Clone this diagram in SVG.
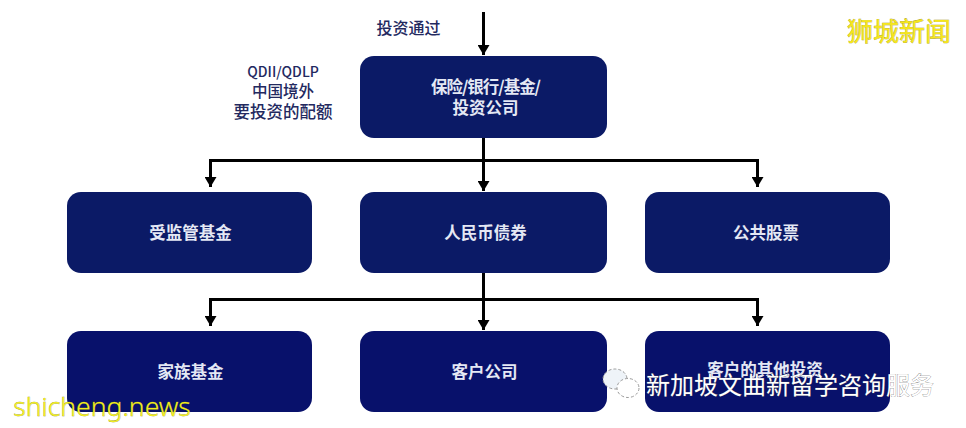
<svg xmlns="http://www.w3.org/2000/svg" width="966" height="428" viewBox="0 0 966 428">
<style>
.box{fill:#0b1a66}
.low{fill:#08116b}
.t{font-family:"Noto Sans CJK SC","Liberation Sans",sans-serif;font-size:16.500px;font-weight:700;fill:#e4e8f4;text-anchor:middle}
.l{font-family:"Noto Sans CJK SC","Liberation Sans",sans-serif;font-size:16px;font-weight:500;fill:#23295f;text-anchor:middle}
.c{fill:none;stroke:#000;stroke-width:3}
</style>
<defs><marker id="a" markerUnits="userSpaceOnUse" markerWidth="12" markerHeight="12" refX="10" refY="6" orient="auto"><path d="M0 0L10 6L0 12Z" fill="#000"/></marker></defs>
<rect width="966" height="428" fill="#fff"/>
<g id="connectors">
<path class="c" d="M483.500 12V55" marker-end="url(#a)"/>
<path class="c" d="M483.500 138V191" marker-end="url(#a)"/>
<path class="c" d="M210.500 187V160.500H757.500V187" marker-end="url(#a)"/>
<path class="c" d="M210.500 160.500V187" marker-end="url(#a)"/>
<path class="c" d="M483.500 273V330" marker-end="url(#a)"/>
<path class="c" d="M210.500 326V299.500H757.500V326" marker-end="url(#a)"/>
<path class="c" d="M210.500 299.500V326" marker-end="url(#a)"/>
</g>
<g id="label-via"><text class="l" x="408.500" y="34">投资通过</text></g>
<g id="label-quota">
<text class="l" x="283" y="77" style="font-size:14px">QDII/QDLP</text>
<text class="l" x="283" y="97" style="font-size:15.500px">中国境外</text>
<text class="l" x="283" y="118" style="font-size:16.500px">要投资的配额</text>
</g>
<g id="node-top"><rect class="box" x="360" y="56" width="247" height="82" rx="14"/>
<text class="t" x="486" y="93" textLength="110">保险/银行/基金/</text><text class="t" x="485.500" y="114">投资公司</text></g>
<g id="node-funds"><rect class="box" x="67" y="192" width="245" height="81" rx="14"/><text class="t" x="190.500" y="239">受监管基金</text></g>
<g id="node-bonds"><rect class="box" x="360" y="192" width="247" height="81" rx="14"/><text class="t" x="485.500" y="239">人民币债券</text></g>
<g id="node-equity"><rect class="box" x="645" y="192" width="245" height="81" rx="14"/><text class="t" x="766" y="239">公共股票</text></g>
<g id="node-family"><rect class="box low" x="67" y="331" width="245" height="81" rx="14"/><text class="t" x="190.500" y="378">家族基金</text></g>
<g id="node-client"><rect class="box low" x="360" y="331" width="247" height="81" rx="14"/><text class="t" x="484.500" y="378">客户公司</text></g>
<g id="node-other"><rect class="box low" x="645" y="331" width="245" height="81" rx="14"/><text class="t" x="765" y="376">客户的其他投资</text></g>
<g id="wechat-icon" fill="#fff" stroke="#9a9a9a" stroke-width="1" stroke-dasharray="3 2">
<ellipse cx="615" cy="379" rx="12" ry="10" fill="#eef3f8"/>
<ellipse cx="628" cy="388" rx="11" ry="9.500"/>
</g>
<text x="790" y="394" text-anchor="middle" font-family="'Noto Sans CJK SC',sans-serif" font-size="24" fill="#fff" stroke="#555" stroke-width="0.500" paint-order="stroke">新加坡文曲新留学咨询服务</text>
<text x="102" y="416" text-anchor="middle" font-family="'Noto Sans',sans-serif" font-weight="300" font-size="26.500" fill="#f2ee1c" stroke="#8a8a20" stroke-width="0.500" paint-order="stroke">shicheng.news</text>
<text x="899" y="41" text-anchor="middle" font-family="'Noto Sans CJK SC',sans-serif" font-size="26" fill="#f5e61c" stroke="#a89a20" stroke-width="0.600" paint-order="stroke">狮城新闻</text>
</svg>
